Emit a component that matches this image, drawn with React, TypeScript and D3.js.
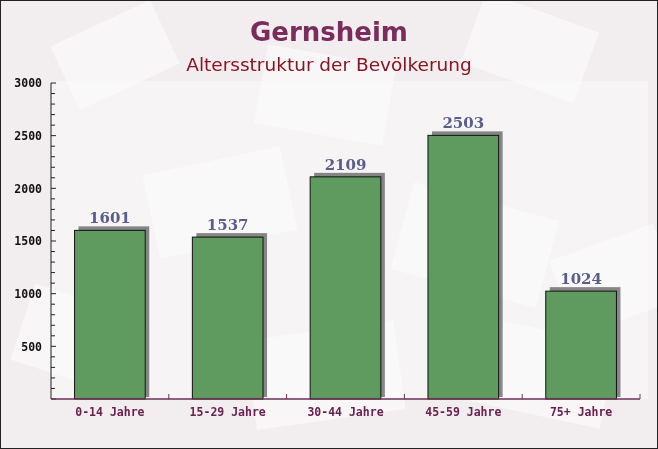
import { useEffect, useRef } from 'react';
import * as d3 from 'd3';

const CATEGORIES = ['0-14 Jahre', '15-29 Jahre', '30-44 Jahre', '45-59 Jahre', '75+ Jahre'];
const VALUES = [1601, 1537, 2109, 2503, 1024];
const Y_TICKS = [500, 1000, 1500, 2000, 2500, 3000];
const TITLE = 'Gernsheim';
const SUBTITLE = 'Altersstruktur der Bevölkerung';

export default function App() {
  const svgRef = useRef<SVGSVGElement>(null);

  useEffect(() => {
    const el = svgRef.current;
    if (!el) return;
    const svg = d3.select(el);
    svg.selectAll('*').remove();

    const W = 658;
    const H = 449;
    const margin = { top: 83, right: 20, bottom: 50, left: 51 };
    const iW = W - margin.left - margin.right;
    const iH = H - margin.top - margin.bottom;

    // background
    svg.append('rect').attr('width', W).attr('height', H).attr('fill', '#f2eef0');
    const deco = svg.append('g').attr('fill', '#ffffff').attr('opacity', 0.5);
    [
      [60, 20, 110, 70, -25], [260, 55, 130, 80, 10], [470, 10, 120, 75, 20],
      [150, 160, 140, 85, -12], [400, 200, 150, 90, 15], [560, 240, 110, 80, -20],
      [20, 300, 120, 80, 18], [250, 330, 150, 90, -8], [470, 330, 140, 85, 12],
    ].forEach(([x, y, w, h, r]) => {
      deco.append('rect').attr('x', x).attr('y', y).attr('width', w).attr('height', h)
        .attr('transform', `rotate(${r},${x + w / 2},${y + h / 2})`);
    });
    svg.append('rect').attr('x', margin.left).attr('y', margin.top - 2).attr('width', iW + 10).attr('height', iH + 2)
      .attr('fill', '#ffffff').attr('opacity', 0.35);

    const g = svg.append('g').attr('transform', `translate(${margin.left},${margin.top})`);

    const x = d3.scaleBand<string>().domain(CATEGORIES).range([0, iW + 2]).padding(0);
    const y = d3.scaleLinear().domain([0, 3000]).range([iH, 0]);
    const barW = x.bandwidth() * 0.6;

    // bars
    const bars = g.selectAll('.bar').data(VALUES).join('g').attr('class', 'bar');
    bars.append('rect')
      .attr('x', (_, i) => x(CATEGORIES[i])! + (x.bandwidth() - barW) / 2 + 4)
      .attr('y', (d) => y(d) - 4)
      .attr('width', barW)
      .attr('height', (d) => iH - y(d) + 2)
      .attr('fill', '#555')
      .attr('opacity', 0.7);
    bars.append('rect')
      .attr('x', (_, i) => x(CATEGORIES[i])! + (x.bandwidth() - barW) / 2)
      .attr('y', (d) => y(d))
      .attr('width', barW)
      .attr('height', (d) => iH - y(d))
      .attr('fill', '#5f9b5f')
      .attr('stroke', '#111')
      .attr('stroke-width', 1);
    bars.append('text')
      .attr('x', (_, i) => x(CATEGORIES[i])! + x.bandwidth() / 2)
      .attr('y', (d) => y(d) - 7)
      .attr('text-anchor', 'middle')
      .attr('font-family', "'DejaVu Serif'")
      .attr('font-weight', 'bold')
      .attr('font-size', '15px')
      .attr('fill', '#5a5e8a')
      .text((d) => String(d));

    // y axis
    const yAxis = g.append('g')
      .call(d3.axisLeft(y).tickValues(Y_TICKS).tickSize(0).tickPadding(9).tickFormat((d) => String(d)));
    yAxis.select('.domain').remove();
    yAxis.selectAll('.tick text')
      .attr('font-family', "'DejaVu Sans Mono'").attr('font-weight', 'bold').attr('font-size', '11.5px').attr('fill', '#111');
    g.append('line').attr('x1', 0).attr('x2', 0).attr('y1', 0).attr('y2', iH).attr('stroke', '#222');
    g.selectAll('.ytick').data(d3.range(0, 3001, 100)).join('line').attr('class', 'ytick')
      .attr('x1', 0).attr('x2', (d) => (d % 500 === 0 ? 5 : 4))
      .attr('y1', (d) => y(d)).attr('y2', (d) => y(d))
      .attr('stroke', '#222');

    // x axis
    g.append('line').attr('x1', 0).attr('x2', iW + 2).attr('y1', iH).attr('y2', iH).attr('stroke', '#6b3056').attr('stroke-width', 1.5);
    g.selectAll('.xtick').data(CATEGORIES.slice(1).concat(['end'])).join('line').attr('class', 'xtick')
      .attr('x1', (d, i) => (d === 'end' ? iW + 2 : x(CATEGORIES[i + 1])!))
      .attr('x2', (d, i) => (d === 'end' ? iW + 2 : x(CATEGORIES[i + 1])!))
      .attr('y1', iH).attr('y2', iH - 5)
      .attr('stroke', '#6b3056');
    g.selectAll('.xlabel').data(CATEGORIES).join('text').attr('class', 'xlabel')
      .attr('x', (d) => x(d)! + x.bandwidth() / 2)
      .attr('y', iH + 17)
      .attr('text-anchor', 'middle')
      .attr('font-family', "'DejaVu Sans Mono'")
      .attr('font-weight', 'bold')
      .attr('font-size', '11.5px')
      .attr('fill', '#6b2050')
      .text((d) => d);

    // titles
    svg.append('text').attr('x', W / 2).attr('y', 41).attr('text-anchor', 'middle')
      .attr('font-family', "'DejaVu Sans'").attr('font-weight', 'bold').attr('font-size', '26px')
      .attr('fill', '#7a2d5c').text(TITLE);
    svg.append('text').attr('x', W / 2).attr('y', 71).attr('text-anchor', 'middle')
      .attr('font-family', "'DejaVu Sans'").attr('font-size', '18.5px')
      .attr('fill', '#8a1422').text(SUBTITLE);

    // frame
    svg.append('rect').attr('x', 0.5).attr('y', 0.5).attr('width', W - 1).attr('height', H - 1)
      .attr('fill', 'none').attr('stroke', '#222');
  }, []);

  return (
    <svg ref={svgRef} width={658} height={449} style={{ position: 'absolute', left: 0, top: 0, display: 'block' }} />
  );
}
